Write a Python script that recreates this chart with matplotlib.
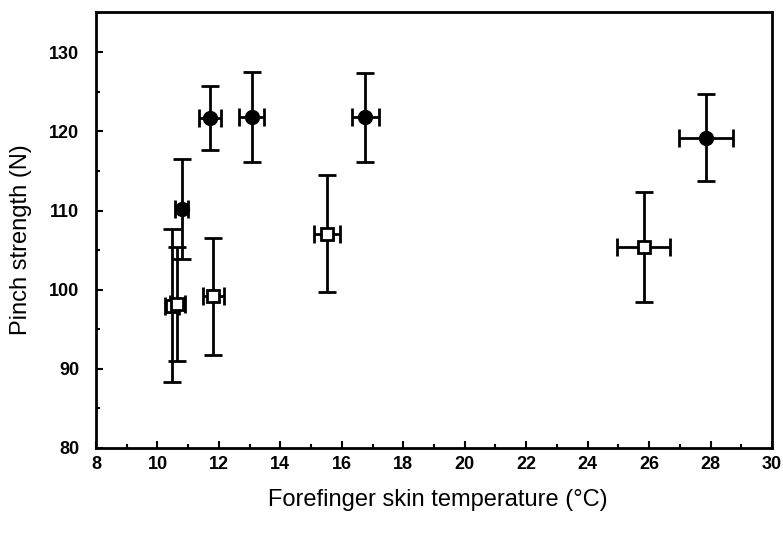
import matplotlib
matplotlib.use("Agg")
import matplotlib.pyplot as plt
from matplotlib.ticker import MultipleLocator

# Data
filled_temp = [10.79, 11.71, 13.07, 16.76, 27.84]
filled_strength = [110.2, 121.7, 121.8, 121.8, 119.2]
filled_strength_err = [6.3, 4.0, 5.7, 5.6, 5.5]
filled_temp_err = [0.22, 0.35, 0.40, 0.44, 0.88]

open_temp = [10.48, 10.65, 11.82, 15.51, 25.82]
open_strength = [98.0, 98.2, 99.2, 107.1, 105.4]
open_strength_err = [9.7, 7.2, 7.4, 7.4, 6.9]
open_temp_err = [0.22, 0.25, 0.33, 0.43, 0.86]

x_ticks = [8, 10, 12, 14, 16, 18, 20, 22, 24, 26, 28, 30]
y_ticks = [80, 90, 100, 110, 120, 130]

tick_font = ['Liberation Sans Narrow', 'Liberation Sans', 'DejaVu Sans']
label_font = ['Liberation Sans', 'DejaVu Sans']

fig = plt.figure(figsize=(7.83, 5.39), dpi=100)
ax = fig.add_axes([96/783, 1-448/539, (772-96)/783, (448-12)/539])

eb_kw = dict(ecolor='black', elinewidth=2.0, capsize=6.5, capthick=2.0, linestyle='none')
ax.errorbar(open_temp, open_strength, yerr=open_strength_err, xerr=open_temp_err,
            fmt='s', markersize=8, markerfacecolor='white', markeredgecolor='black',
            markeredgewidth=2.0, zorder=3, **eb_kw)
ax.errorbar(filled_temp, filled_strength, yerr=filled_strength_err, xerr=filled_temp_err,
            fmt='o', markersize=10, markerfacecolor='black', markeredgecolor='black',
            zorder=4, **eb_kw)

ax.set_xlim(8, 30)
ax.set_ylim(80, 135.1)
ax.set_xticks(x_ticks)
ax.set_yticks(y_ticks)
ax.xaxis.set_minor_locator(MultipleLocator(1))
ax.yaxis.set_minor_locator(MultipleLocator(5))
ax.tick_params(which='major', direction='in', length=5, width=1.5, pad=6)
ax.tick_params(which='minor', direction='in', length=3, width=1.5)
ax.tick_params(axis='y', which='major', pad=12)
for lab in ax.get_xticklabels() + ax.get_yticklabels():
    lab.set_family(tick_font)
    lab.set_fontweight('bold')
    lab.set_fontsize(13)
for s in ax.spines.values():
    s.set_linewidth(2.0)

ax.set_xlabel('Forefinger skin temperature (°C)', family=label_font, fontsize=17)
ax.set_ylabel('Pinch strength (N)', family=label_font, fontsize=17)
ax.xaxis.set_label_coords(0.506, -0.093)
ax.yaxis.set_label_coords(-0.095, 0.477)

fig.savefig('out.png', dpi=100)
